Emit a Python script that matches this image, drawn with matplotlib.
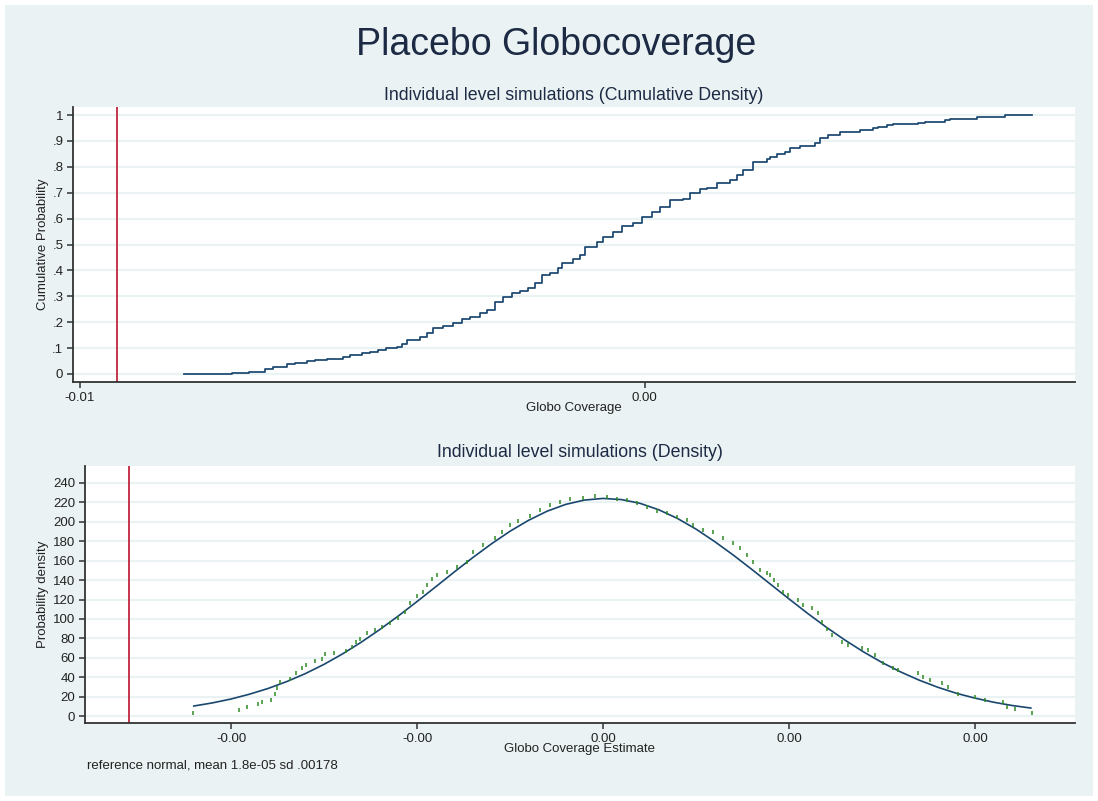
import matplotlib
matplotlib.use("Agg")
import matplotlib.pyplot as plt
from matplotlib.patches import Rectangle

plt.rcParams['font.family'] = ['Liberation Sans', 'DejaVu Sans']

# ---------------- data ----------------
title = "Placebo Globocoverage"
sub_cdf = "Individual level simulations (Cumulative Density)"
sub_pdf = "Individual level simulations (Density)"
note = "reference normal, mean 1.8e-05 sd .00178"

placebo_estimate = -0.0051  # red vertical line

# Empirical CDF (x in 1e-4 units, cumulative probability)
cdf_x = [-43.90, -38.81, -37.00, -35.30, -34.45, -32.97, -32.12, -30.85, -30.00,
         -28.72, -27.03, -26.28, -25.01, -24.16, -23.30, -22.46, -21.29, -20.76,
         -20.23, -18.85, -18.11, -17.47, -16.41, -15.35, -14.40, -13.55, -12.49,
         -11.74, -10.89, -10.04, -9.09, -8.24, -7.39, -6.65, -5.90, -5.06, -4.21,
         -3.78, -2.61, -1.87, -1.34, -0.07, 0.57, 1.63, 2.59, 3.75, 4.71, 5.77,
         6.62, 7.68, 9.06, 9.80, 10.86, 11.61, 12.67, 14.05, 14.79, 15.43, 16.49,
         17.97, 18.29, 19.04, 19.89, 20.42, 21.48, 23.07, 23.60, 24.45, 25.72,
         27.84, 29.22, 29.76, 30.71, 31.35, 34.00, 34.74, 36.87, 37.40, 40.26,
         43.24, 46.10]
cdf_p = [0.000, 0.004, 0.008, 0.020, 0.028, 0.039, 0.044, 0.049, 0.054,
         0.059, 0.067, 0.072, 0.080, 0.085, 0.094, 0.102, 0.106, 0.116,
         0.131, 0.144, 0.160, 0.176, 0.185, 0.196, 0.211, 0.219, 0.234,
         0.247, 0.279, 0.298, 0.314, 0.322, 0.331, 0.353, 0.382, 0.391, 0.408,
         0.427, 0.443, 0.459, 0.491, 0.511, 0.530, 0.549, 0.571, 0.584, 0.607, 0.627,
         0.644, 0.672, 0.676, 0.698, 0.713, 0.717, 0.736, 0.749, 0.768, 0.788, 0.820,
         0.829, 0.836, 0.849, 0.858, 0.871, 0.880, 0.893, 0.910, 0.923, 0.936,
         0.942, 0.949, 0.955, 0.961, 0.965, 0.970, 0.974, 0.981, 0.985, 0.991,
         1.000, 1.000]

# Reference normal curve (x in 1e-4 units, density)
norm_x = [-44, -42, -40, -38, -36, -34, -32, -30, -28, -26, -24, -22, -20, -18,
          -16, -14, -12, -10, -8, -6, -4, -2, 0, 2, 4, 6, 8, 10, 12, 14, 16, 18,
          20, 22, 24, 26, 28, 30, 32, 34, 36, 38, 40, 42, 44, 46]
norm_y = [10.3, 13.5, 17.5, 22.5, 28.4, 35.5, 43.7, 53.2, 64.0, 76.0, 89.1, 103.1,
          117.9, 133.0, 148.3, 163.2, 177.3, 190.3, 201.6, 211.0, 218.0, 222.4,
          224.1, 222.9, 219.0, 212.4, 203.5, 192.5, 179.7, 165.8, 151.0, 135.8,
          120.6, 105.7, 91.5, 78.3, 66.1, 55.1, 45.4, 36.9, 29.6, 23.4, 18.4,
          14.2, 10.8, 8.2]

# Simulated density points (x in 1e-4 units, density)
dens_x = [-44.09, -39.14, -38.28, -37.10, -36.67, -35.70, -35.27, -35.05, -34.73,
          -33.66, -33.01, -32.37, -31.94, -30.97, -30.22, -29.89, -28.92, -27.63,
          -26.99, -26.56, -26.13, -25.38, -24.52, -23.76, -22.90, -22.04, -21.29,
          -20.75, -20.00, -19.35, -18.92, -18.39, -17.85, -16.77, -15.70, -14.62,
          -13.98, -12.90, -11.61, -10.86, -10.00, -9.14, -7.85, -6.77, -5.70,
          -4.62, -3.55, -2.15, -0.86, 0.43, 1.51, 2.58, 3.66, 4.73, 5.81, 6.88,
          7.96, 9.03, 9.68, 10.75, 11.83, 12.90, 13.98, 14.73, 15.48, 16.13,
          16.88, 17.63, 17.96, 18.39, 18.82, 19.35, 19.89, 20.97, 21.51, 22.47,
          23.12, 23.55, 24.09, 24.62, 25.70, 26.34, 27.85, 28.49, 29.25, 30.11,
          31.18, 31.72, 33.87, 34.41, 35.16, 36.45, 37.10, 38.17, 40.00, 41.08,
          43.01, 43.44, 44.30, 46.13]
dens_y = [2.8, 6.0, 9.0, 12.0, 14.0, 17.0, 23.0, 28.5, 35.0,
          38.0, 44.0, 49.0, 52.5, 57.0, 59.0, 63.5, 65.0, 67.0,
          70.7, 76.5, 79.0, 86.0, 89.0, 92.0, 95.5, 100.6, 107.4,
          116.0, 123.6, 128.0, 135.0, 140.8, 145.0, 148.6, 153.0, 159.0,
          169.0, 176.0, 183.0, 190.0, 197.0, 201.0, 206.0, 212.0, 217.0,
          220.7, 223.0, 225.0, 226.6, 225.9, 224.0, 222.4, 219.0, 215.6, 211.0, 208.7,
          205.0, 202.0, 197.0, 191.6, 190.0, 183.0, 178.0, 172.7, 166.0, 159.0,
          150.0, 147.0, 145.0, 140.0, 135.0, 128.0, 124.6, 119.5, 114.0, 111.0,
          105.8, 97.0, 90.0, 83.4, 76.5, 73.0, 69.7, 68.0, 62.8, 55.0,
          49.0, 47.4, 44.0, 40.5, 37.0, 33.7, 30.0, 22.7, 20.0, 17.0,
          14.7, 9.6, 7.0, 2.8]

cdf_yticks = [0, .1, .2, .3, .4, .5, .6, .7, .8, .9, 1]
cdf_yticklabels = ["0", ".1", ".2", ".3", ".4", ".5", ".6", ".7", ".8", ".9", "1"]
cdf_xticks = [-0.0055, 0.0005]
pdf_yticks = [0, 20, 40, 60, 80, 100, 120, 140, 160, 180, 200, 220, 240]
pdf_xticks = [-0.004, -0.002, 0.0, 0.002, 0.004]

# ---------------- style ----------------
W, H = 1098, 801
BG = '#EAF2F3'
NAVY = '#1A476F'
RED = '#C0243F'
GREEN = '#2E8B22'
TXT = '#1c2a44'
DARK = '#222222'

def fx(px):
    return px / W

def fy(py):
    return 1 - py / H

fig = plt.figure(figsize=(W / 100, H / 100), dpi=100, facecolor='white')
fig.patches.append(Rectangle((fx(5), fy(796)), fx(1093) - fx(5), fy(5) - fy(796),
                             transform=fig.transFigure, facecolor=BG, edgecolor='none', zorder=-10))

def style_axes(ax):
    ax.set_facecolor('white')
    for s in ['top', 'right']:
        ax.spines[s].set_visible(False)
    for s in ['left', 'bottom']:
        ax.spines[s].set_color('#333333')
        ax.spines[s].set_linewidth(1.3)
    ax.tick_params(axis='both', direction='out', length=4, width=1.1, color='#333333',
                   labelsize=9.5, labelcolor=DARK, pad=3)
    ax.grid(axis='y', color=BG, linewidth=1.6)
    ax.set_axisbelow(True)

# ---- top: CDF ----
ax1 = fig.add_axes([fx(73), fy(382), fx(1075) - fx(73), fy(107) - fy(382)])
style_axes(ax1)
ax1.step([v * 1e-4 for v in cdf_x], cdf_p, where='post', color=NAVY, linewidth=1.25)
ax1.axvline(placebo_estimate, color=RED, linewidth=1.3)
ax1.set_xlim(-0.00557, 0.00507)
ax1.set_ylim(-0.031, 1.031)
ax1.set_yticks(cdf_yticks)
ax1.set_yticklabels(cdf_yticklabels)
ax1.set_xticks(cdf_xticks)
ax1.set_xticklabels([f"{v:.2f}" for v in cdf_xticks])

# ---- bottom: density ----
ax2 = fig.add_axes([fx(85), fy(723), fx(1075) - fx(85), fy(466) - fy(723)])
style_axes(ax2)
ax2.plot([v * 1e-4 for v in norm_x], norm_y, color=NAVY, linewidth=1.2, zorder=3)
ax2.plot([v * 1e-4 for v in dens_x], dens_y, linestyle='none', marker='|',
         markersize=3, markeredgewidth=1.1, color=GREEN, zorder=4)
ax2.axvline(placebo_estimate, color=RED, linewidth=1.3)
ax2.set_xlim(-0.00557, 0.005075)
ax2.set_ylim(-7.2, 257.5)
ax2.set_yticks(pdf_yticks)
ax2.set_xticks(pdf_xticks)
ax2.set_xticklabels([f"{v:.2f}" for v in pdf_xticks])

# ---- texts ----
fig.text(fx(556), fy(45), title, ha='center', va='center', fontsize=27, color=TXT)
fig.text(fx(574), fy(95), sub_cdf, ha='center', va='center', fontsize=12.8, color=TXT)
fig.text(fx(580), fy(452), sub_pdf, ha='center', va='center', fontsize=12.8, color=TXT)
fig.text(fx(43), fy(244), "Cumulative Probability", rotation=90, ha='center', va='center',
         fontsize=9.5, color=DARK)
fig.text(fx(43), fy(594), "Probability density", rotation=90, ha='center', va='center',
         fontsize=9.5, color=DARK)
fig.text(fx(574), fy(408), "Globo Coverage", ha='center', va='center', fontsize=9.5, color=DARK)
fig.text(fx(580), fy(749), "Globo Coverage Estimate", ha='center', va='center', fontsize=9.5, color=DARK)
fig.text(fx(87), fy(766), note, ha='left', va='center', fontsize=9.5, color=DARK)

fig.savefig("out.png", dpi=100, facecolor='white')
